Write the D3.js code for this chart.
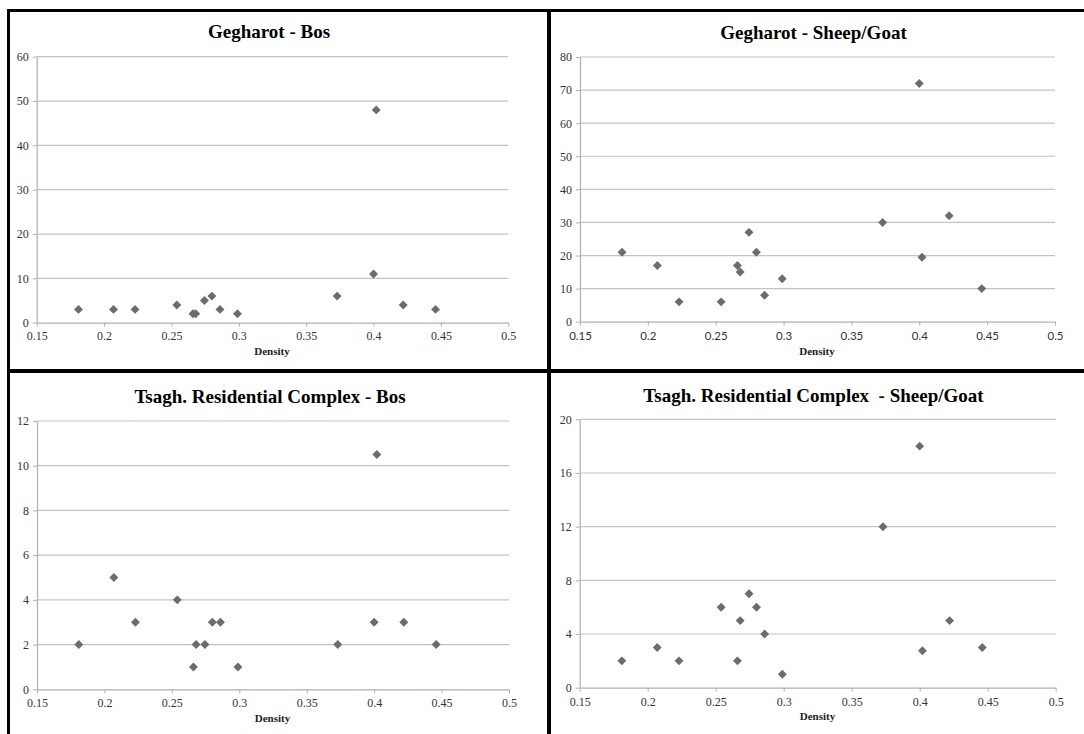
<!DOCTYPE html>
<html>
<head>
<meta charset="utf-8">
<script src="https://cdn.jsdelivr.net/npm/d3@7"></script>
<style>
  html, body { margin: 0; padding: 0; background: #fff; }
  svg { display: block; }
</style>
</head>
<body>
<svg id="chart" width="1084" height="734"></svg>
<script>
// Sample densities shared by all four panels
const density = [0.181, 0.207, 0.223, 0.254, 0.266, 0.268, 0.2745, 0.280, 0.286, 0.299, 0.373, 0.400, 0.402, 0.422, 0.446];

// Counts per sample
const gegharotBos       = [3, 3, 3, 4, 2, 2, 5, 6, 3, 2, 6, 11, 48, 4, 3];
const gegharotSheepGoat = [21, 17, 6, 6, 17, 15, 27, 21, 8, 13, 30, 72, 19.5, 32, 10];
const tsaghBos          = [2, 5, 3, 4, 1, 2, 2, 3, 3, 1, 2, 3, 10.5, 3, 2];
const tsaghSheepGoat    = [2, 3, 2, 6, 2, 5, 7, 6, 4, 1, 12, 18, 2.75, 5, 3];

// Axis ticks
const xTicks = [0.15, 0.2, 0.25, 0.3, 0.35, 0.4, 0.45, 0.5];
const xTickLabels = ["0.15", "0.2", "0.25", "0.3", "0.35", "0.4", "0.45", "0.5"];
const yTicksGegharotBos = [0, 10, 20, 30, 40, 50, 60];
const yTicksGegharotSheepGoat = [0, 10, 20, 30, 40, 50, 60, 70, 80];
const yTicksTsaghBos = [0, 2, 4, 6, 8, 10, 12];
const yTicksTsaghSheepGoat = [0, 4, 8, 12, 16, 20];

const titles = [
  "Gegharot - Bos",
  "Gegharot - Sheep/Goat",
  "Tsagh. Residential Complex - Bos",
  "Tsagh. Residential Complex  - Sheep/Goat"
];
const xAxisTitle = "Density";

const SERIF = "'Liberation Serif', 'Times New Roman', serif";
const SANS = "Lato, 'Liberation Sans', sans-serif";

const svg = d3.select("#chart");

const panels = [
  { title: titles[0], values: gegharotBos, yTicks: yTicksGegharotBos,
    x0: 36.7, x1: 508.3, yTop: 56.7, yBot: 322.7, titleX: 269, titleY: 38,
    tickY: 340, labelX: 272, labelY: 355, xFont: SERIF },
  { title: titles[1], values: gegharotSheepGoat, yTicks: yTicksGegharotSheepGoat,
    x0: 580, x1: 1055, yTop: 57, yBot: 321.7, titleX: 813.5, titleY: 39,
    tickY: 340, labelX: 817, labelY: 355, xFont: SANS },
  { title: titles[2], values: tsaghBos, yTicks: yTicksTsaghBos,
    x0: 37, x1: 509, yTop: 421, yBot: 689.3, titleX: 270, titleY: 403,
    tickY: 707, labelX: 272.5, labelY: 721.5, xFont: SERIF },
  { title: titles[3], values: tsaghSheepGoat, yTicks: yTicksTsaghSheepGoat,
    x0: 579.7, x1: 1055.7, yTop: 419.3, yBot: 687.7, titleX: 813.5, titleY: 401.5,
    tickY: 706, labelX: 817.5, labelY: 720, xFont: SERIF }
];

const diamond = d3.symbol().type(d3.symbolSquare).size(40);

panels.forEach(p => {
  const yMax = p.yTicks[p.yTicks.length - 1];
  const x = d3.scaleLinear().domain([0.15, 0.5]).range([p.x0, p.x1]);
  const y = d3.scaleLinear().domain([0, yMax]).range([p.yBot, p.yTop]);
  const g = svg.append("g");

  // horizontal gridlines
  g.append("g").selectAll("line")
    .data(p.yTicks.filter(t => t > 0))
    .join("line")
    .attr("x1", p.x0).attr("x2", p.x1)
    .attr("y1", d => y(d)).attr("y2", d => y(d))
    .attr("stroke", "#c4c4c4").attr("stroke-width", 1.2);

  // y axis
  const yAxis = g.append("g")
    .attr("transform", `translate(${p.x0},0)`)
    .call(d3.axisLeft(y).tickValues(p.yTicks).tickSize(4).tickPadding(4).tickSizeOuter(0));
  yAxis.select(".domain").attr("stroke", "#b0b0b0").attr("stroke-width", 1.2);
  yAxis.selectAll(".tick line").attr("stroke", "#b0b0b0");
  yAxis.selectAll(".tick text")
    .attr("font-family", SERIF).attr("font-size", 12).attr("fill", "#333");

  // x axis
  const xAxis = g.append("g")
    .attr("transform", `translate(0,${p.yBot})`)
    .call(d3.axisBottom(x).tickValues(xTicks)
      .tickFormat((d, i) => xTickLabels[i]).tickSize(4).tickPadding(0).tickSizeOuter(0));
  xAxis.select(".domain").attr("stroke", "#b0b0b0").attr("stroke-width", 1.2);
  xAxis.selectAll(".tick line").attr("stroke", "#b0b0b0");
  xAxis.selectAll(".tick text")
    .attr("y", p.tickY - p.yBot).attr("dy", 0)
    .attr("font-family", p.xFont).attr("font-size", p.xFont === SANS ? 11.5 : 12).attr("fill", "#333");

  // markers
  g.append("g").selectAll("path")
    .data(density.map((d, i) => ({ d, v: p.values[i] })))
    .join("path")
    .attr("d", diamond)
    .attr("transform", o => `translate(${x(o.d)},${y(o.v)}) rotate(45)`)
    .attr("fill", "#6c6c6c");

  // title
  g.append("text")
    .attr("x", p.titleX).attr("y", p.titleY)
    .attr("text-anchor", "middle")
    .style("white-space", "pre")
    .attr("font-family", SERIF).attr("font-weight", "bold")
    .attr("font-size", 19).attr("fill", "#000")
    .text(p.title);

  // x axis title
  g.append("text")
    .attr("x", p.labelX).attr("y", p.labelY)
    .attr("text-anchor", "middle")
    .attr("font-family", SERIF).attr("font-weight", "bold")
    .attr("font-size", 11).attr("fill", "#222")
    .text(xAxisTitle);
});

// panel frame lines
const frame = svg.append("g").attr("fill", "#000");
frame.append("rect").attr("x", 7).attr("y", 9).attr("width", 1077).attr("height", 3);
frame.append("rect").attr("x", 7).attr("y", 9).attr("width", 3).attr("height", 725);
frame.append("rect").attr("x", 547).attr("y", 9).attr("width", 4).attr("height", 725);
frame.append("rect").attr("x", 7).attr("y", 369).attr("width", 1077).attr("height", 4);
</script>
</body>
</html>
